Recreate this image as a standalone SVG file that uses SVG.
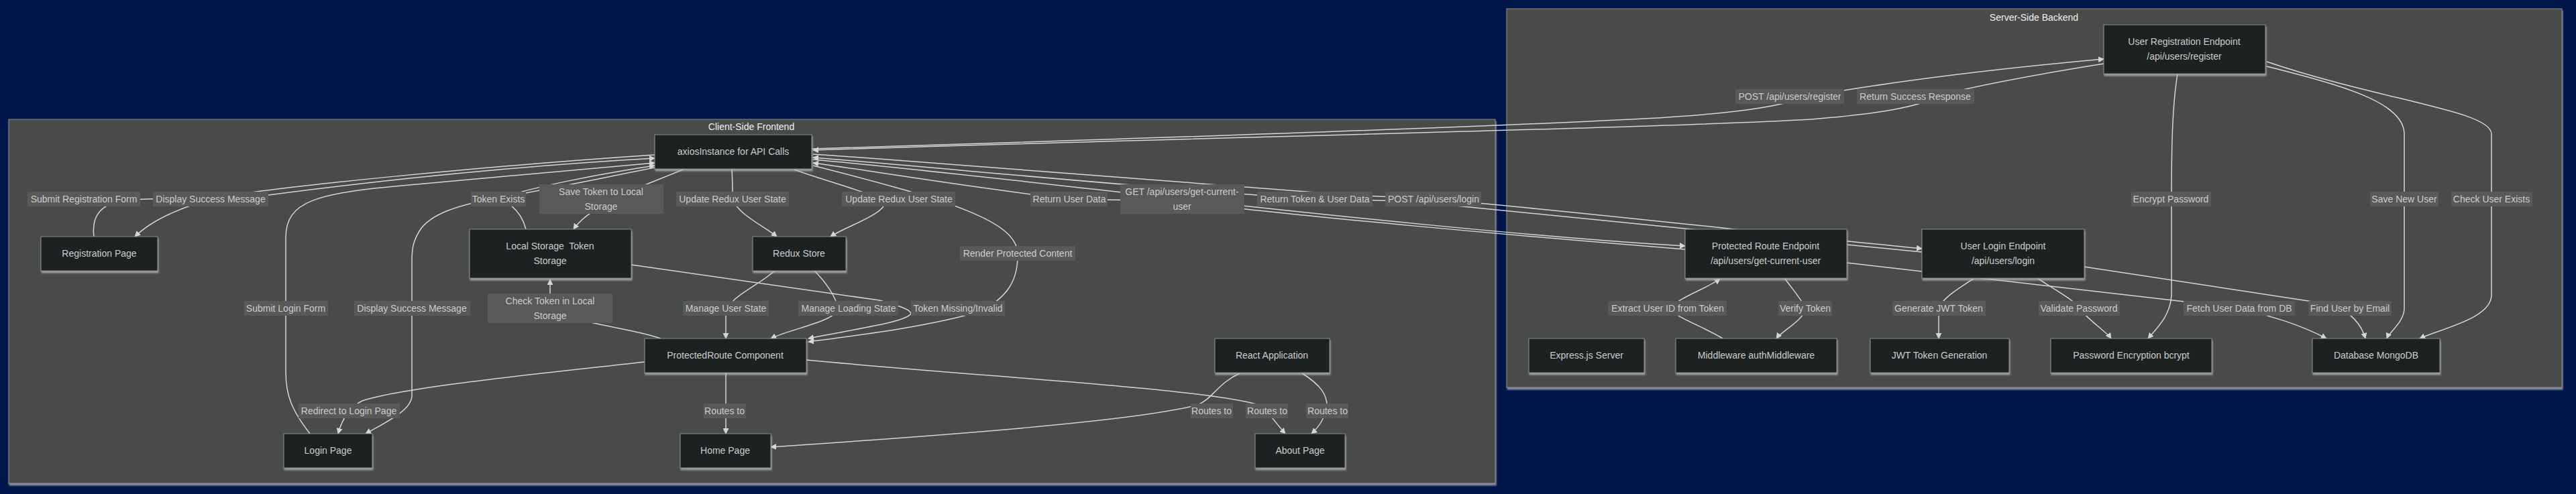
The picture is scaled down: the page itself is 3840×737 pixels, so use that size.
<svg xmlns="http://www.w3.org/2000/svg" width="3840" height="737" viewBox="0 0 3840 737">
<defs>
<style>
.cl{fill:#4a4b4a;stroke:#8a8a8a;stroke-width:1;filter:url(#sh)}
.ct{font-family:"Liberation Sans",Arial,sans-serif;font-size:14px;fill:#f0f0f0;text-anchor:middle;dominant-baseline:central}
.n rect{fill:#1f2020;stroke:#8c8c8c;stroke-width:1;filter:url(#sh)}
.n text{font-family:"Liberation Sans",Arial,sans-serif;font-size:14px;fill:#cccccc;text-anchor:middle;dominant-baseline:central}
.e path{fill:none;stroke:#d6d6d6;stroke-width:1.5}
.e path.a{marker-end:url(#arr)}
.l rect{fill:#595959}
.l text{font-family:"Liberation Sans",Arial,sans-serif;font-size:14px;fill:#cccccc;text-anchor:middle;dominant-baseline:central}
</style>
<filter id="sh" x="-10%" y="-10%" width="120%" height="130%">
<feDropShadow dx="1" dy="3" stdDeviation="1" flood-color="#b8b8b8" flood-opacity="0.75"/>
</filter>
<marker id="arr" viewBox="0 0 10 10" refX="9" refY="5" markerWidth="9" markerHeight="9" markerUnits="userSpaceOnUse" orient="auto">
<path d="M0,0 L10,5 L0,10 z" fill="#d6d6d6"/>
</marker>
</defs>
<rect width="3840" height="737" fill="#00154a"/>

<g id="cluster-frontend">
<rect class="cl" x="13" y="178" width="2216" height="543"/>
<text class="ct" x="1120" y="189">Client-Side Frontend</text>
</g>
<g id="cluster-backend">
<rect class="cl" x="2246" y="13" width="1573" height="565"/>
<text class="ct" x="3032" y="26">Server-Side Backend</text>
</g>

<g id="connectors" class="e">
<path class="a" d="M140,353 C136,322 150,303 190,298 L400,291 C620,262 820,245 976,236"/>
<path class="a" d="M976,231 C720,248 420,278 330,294 C280,305 230,325 201,353"/>
<path class="a" d="M462,647 C435,612 426,590 426,555 L426,355 C426,300 470,288 610,276 C760,262 900,250 976,243"/>
<path class="a" d="M976,250 C900,265 820,282 760,292 C680,305 640,320 625,345 C616,360 614,370 614,390 L614,590 C614,612 575,630 545,647"/>
<path class="a" d="M784,342 C779,322 766,306 745,296 C790,280 890,260 976,247"/>
<path class="a" d="M1018,253 C990,265 960,275 930,290 C900,305 870,320 855,342"/>
<path class="a" d="M985,505 C940,488 830,480 820,455 L820,417"/>
<path class="a" d="M1091,253 C1092,270 1092,285 1092,297 C1100,320 1140,338 1158,353"/>
<path class="a" d="M1184,253 C1230,270 1290,285 1320,300 C1320,320 1260,338 1238,353"/>
<path class="a" d="M1212,247 C1420,300 1515,330 1517,378 C1518,420 1500,445 1460,465 C1380,488 1280,500 1205,510"/>
<path class="a" d="M941,395 L1311,448 C1340,456 1358,462 1358,468 C1350,480 1290,488 1205,505"/>
<path class="a" d="M1155,404 C1125,430 1082,445 1082,470 L1082,505"/>
<path class="a" d="M1214,404 C1230,420 1244,440 1250,460 C1245,480 1180,490 1149,505"/>
<path class="a" d="M961,540 C800,558 600,578 540,598 C520,608 510,625 504,647"/>
<path class="a" d="M1082,556 L1082,647"/>
<path class="a" d="M1202,537 C1500,565 1800,580 1880,605 C1895,620 1905,635 1916,647"/>
<path class="a" d="M1848,557 C1815,572 1808,595 1785,604 C1700,628 1400,650 1149,667"/>
<path class="a" d="M1941,557 C1970,575 1978,590 1978,605 C1975,625 1965,638 1955,647"/>
<path class="a" d="M1210,222 C1600,210 2200,190 2450,177 C2580,170 2650,160 2690,145 C2800,125 2950,105 3136,88"/>
<path class="a" d="M3136,95 C3030,112 2960,125 2900,140 C2860,160 2800,170 2700,178 C2500,190 1800,205 1212,224"/>
<path class="a" d="M1212,238 C1400,255 1650,285 1762,297 C1950,318 2300,355 2512,367"/>
<path class="a" d="M2512,372 C2300,355 1900,320 1760,300 L1594,297 C1450,280 1300,255 1212,243"/>
<path class="a" d="M1212,230 C1500,250 1800,275 2000,290 L2137,297 C2350,315 2650,350 2865,371"/>
<path class="a" d="M2865,376 C2650,355 2300,320 2100,300 L1960,297 C1700,280 1400,250 1212,235"/>
<path class="a" d="M2660,415 C2675,435 2688,450 2691,460 C2692,475 2655,495 2648,505"/>
<path class="a" d="M2568,505 C2545,490 2490,470 2490,460 C2500,445 2545,430 2564,416"/>
<path class="a" d="M2943,415 C2920,430 2895,445 2890,460 L2890,505"/>
<path class="a" d="M3037,415 C3060,430 3095,450 3100,460 C3110,475 3140,495 3147,505"/>
<path class="a" d="M3246,110 C3238,160 3237,220 3237,300 L3237,440 C3236,470 3215,490 3202,505"/>
<path class="a" d="M3379,99 C3480,125 3584,150 3584,200 L3584,460 C3584,480 3562,495 3558,505"/>
<path class="a" d="M3379,92 C3550,150 3714,165 3714,200 L3714,440 C3714,475 3640,490 3607,505"/>
<path class="a" d="M2753,392 L3300,455 C3380,465 3440,490 3468,505"/>
<path class="a" d="M3107,398 L3480,455 C3510,470 3522,490 3526,505"/>
</g>

<g id="edge-labels" class="l">
<rect x="41" y="286" width="168" height="22"/><text x="125" y="297">Submit Registration Form</text>
<rect x="228" y="286" width="172" height="22"/><text x="314" y="297">Display Success Message</text>
<rect x="702" y="286" width="82" height="22"/><text x="743" y="297">Token Exists</text>
<rect x="804" y="275" width="185" height="44"/><text x="896" y="286">Save Token to Local</text><text x="896" y="308">Storage</text>
<rect x="727" y="438" width="186" height="44"/><text x="820" y="449">Check Token in Local</text><text x="820" y="471">Storage</text>
<rect x="364" y="449" width="125" height="22"/><text x="426" y="460">Submit Login Form</text>
<rect x="528" y="449" width="173" height="22"/><text x="614" y="460">Display Success Message</text>
<rect x="445" y="602" width="151" height="22"/><text x="520" y="613">Redirect to Login Page</text>
<rect x="1008" y="286" width="168" height="22"/><text x="1092" y="297">Update Redux User State</text>
<rect x="1255" y="286" width="169" height="22"/><text x="1340" y="297">Update Redux User State</text>
<rect x="1536" y="286" width="115" height="22"/><text x="1594" y="297">Return User Data</text>
<rect x="1670" y="275" width="185" height="44"/><text x="1762" y="286">GET /api/users/get-current-</text><text x="1762" y="308">user</text>
<rect x="1431" y="367" width="172" height="22"/><text x="1517" y="378">Render Protected Content</text>
<rect x="1018" y="449" width="128" height="22"/><text x="1082" y="460">Manage User State</text>
<rect x="1190" y="449" width="149" height="22"/><text x="1265" y="460">Manage Loading State</text>
<rect x="1358" y="449" width="140" height="22"/><text x="1428" y="460">Token Missing/Invalid</text>
<rect x="1874" y="286" width="172" height="22"/><text x="1960" y="297">Return Token &amp; User Data</text>
<rect x="2065" y="286" width="143" height="22"/><text x="2137" y="297">POST /api/users/login</text>
<rect x="1049" y="602" width="63" height="22"/><text x="1080" y="613">Routes to</text>
<rect x="1775" y="602" width="63" height="22"/><text x="1806" y="613">Routes to</text>
<rect x="1857" y="602" width="63" height="22"/><text x="1889" y="613">Routes to</text>
<rect x="1947" y="602" width="63" height="22"/><text x="1979" y="613">Routes to</text>
<rect x="2587" y="133" width="162" height="22"/><text x="2668" y="144">POST /api/users/register</text>
<rect x="2768" y="133" width="175" height="22"/><text x="2855" y="144">Return Success Response</text>
<rect x="3177" y="286" width="119" height="22"/><text x="3236" y="297">Encrypt Password</text>
<rect x="3533" y="286" width="102" height="22"/><text x="3584" y="297">Save New User</text>
<rect x="3654" y="286" width="121" height="22"/><text x="3714" y="297">Check User Exists</text>
<rect x="2397" y="449" width="177" height="22"/><text x="2486" y="460">Extract User ID from Token</text>
<rect x="2651" y="449" width="80" height="22"/><text x="2691" y="460">Verify Token</text>
<rect x="2821" y="449" width="139" height="22"/><text x="2890" y="460">Generate JWT Token</text>
<rect x="3039" y="449" width="121" height="22"/><text x="3099" y="460">Validate Password</text>
<rect x="3255" y="449" width="166" height="22"/><text x="3338" y="460">Fetch User Data from DB</text>
<rect x="3441" y="449" width="124" height="22"/><text x="3503" y="460">Find User by Email</text>
</g>

<g id="node-axios" class="n"><rect x="976" y="201" width="234" height="51"/><text x="1093" y="226">axiosInstance for API Calls</text></g>
<g id="node-registration" class="n"><rect x="61" y="353" width="174" height="51"/><text x="148" y="378">Registration Page</text></g>
<g id="node-localstorage" class="n"><rect x="700" y="342" width="241" height="73"/><text x="820" y="367" xml:space="preserve">Local Storage  Token</text><text x="820" y="389">Storage</text></g>
<g id="node-redux" class="n"><rect x="1122" y="353" width="139" height="51"/><text x="1191" y="378">Redux Store</text></g>
<g id="node-protectedroute" class="n"><rect x="961" y="505" width="241" height="51"/><text x="1081" y="530">ProtectedRoute Component</text></g>
<g id="node-react" class="n"><rect x="1811" y="505" width="171" height="51"/><text x="1896" y="530">React Application</text></g>
<g id="node-login" class="n"><rect x="423" y="647" width="132" height="51"/><text x="489" y="672">Login Page</text></g>
<g id="node-home" class="n"><rect x="1014" y="647" width="135" height="51"/><text x="1081" y="672">Home Page</text></g>
<g id="node-about" class="n"><rect x="1871" y="647" width="134" height="51"/><text x="1938" y="672">About Page</text></g>
<g id="node-register-endpoint" class="n"><rect x="3136" y="37" width="241" height="73"/><text x="3256" y="62">User Registration Endpoint</text><text x="3256" y="84">/api/users/register</text></g>
<g id="node-protected-endpoint" class="n"><rect x="2512" y="342" width="241" height="73"/><text x="2632" y="367">Protected Route Endpoint</text><text x="2632" y="389">/api/users/get-current-user</text></g>
<g id="node-login-endpoint" class="n"><rect x="2865" y="342" width="242" height="73"/><text x="2986" y="367">User Login Endpoint</text><text x="2986" y="389">/api/users/login</text></g>
<g id="node-express" class="n"><rect x="2279" y="505" width="172" height="51"/><text x="2365" y="530">Express.js Server</text></g>
<g id="node-middleware" class="n"><rect x="2498" y="505" width="240" height="51"/><text x="2618" y="530">Middleware authMiddleware</text></g>
<g id="node-jwt" class="n"><rect x="2788" y="505" width="207" height="51"/><text x="2891" y="530">JWT Token Generation</text></g>
<g id="node-bcrypt" class="n"><rect x="3057" y="505" width="240" height="51"/><text x="3177" y="530">Password Encryption bcrypt</text></g>
<g id="node-db" class="n"><rect x="3447" y="505" width="190" height="51"/><text x="3542" y="530">Database MongoDB</text></g>
</svg>
